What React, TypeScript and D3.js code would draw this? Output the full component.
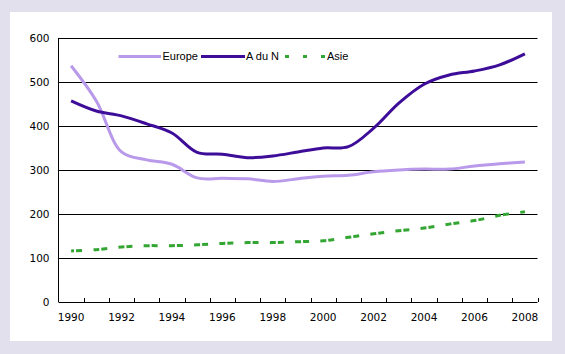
import { useMemo } from 'react';
import * as d3 from 'd3';

const years = d3.range(1990, 2009).map(String);
const yTicks = [0, 100, 200, 300, 400, 500, 600];
const xLabels = ['1990', '1992', '1994', '1996', '1998', '2000', '2002', '2004', '2006', '2008'];

const europe = [537, 457, 341, 323, 313, 282, 281, 280, 274, 280, 286, 288, 296, 300, 302, 302, 309, 314, 318];
const aduN = [457, 434, 423, 405, 384, 340, 336, 328, 332, 341, 350, 353, 395, 452, 495, 516, 525, 539, 564];
const asie = [116, 119, 125, 128, 128, 130, 133, 135, 135, 137, 139, 147, 155, 162, 168, 177, 185, 197, 205];

const series = [
  { name: 'Europe', values: europe, color: '#b999ea', dash: '' },
  { name: 'A du N', values: aduN, color: '#3d0c98', dash: '' },
  { name: 'Asie', values: asie, color: '#33a532', dash: '6,2,6,11.25' },
];

const W = 565;
const H = 354;
const plot = { left: 58.5, right: 537.5, top: 38, bottom: 302 };

export default function App() {
  const x = useMemo(
    () => d3.scaleBand().domain(years).range([plot.left, plot.right]),
    [],
  );
  const y = useMemo(
    () => d3.scaleLinear().domain([0, 600]).range([plot.bottom, plot.top]),
    [],
  );
  const cx = (i: number) => x(years[i])! + x.bandwidth() / 2;

  const line = d3
    .line<number>()
    .x((_, i) => cx(i))
    .y((d) => y(d))
    .curve(d3.curveCatmullRom.alpha(0.5));

  const axisFont = { fontFamily: 'DejaVu Sans, Verdana, sans-serif', fontSize: 10.5, fill: '#000' };
  const legendFont = { fontFamily: 'Liberation Sans, Arial, sans-serif', fontSize: 11, fill: '#000' };

  // légende : x de départ de chaque entrée
  const legend = [
    { s: series[0], x1: 118.5, x2: 161, tx: 162.5, dash: '' },
    { s: series[1], x1: 201, x2: 245, tx: 246, dash: '' },
    { s: series[2], x1: 285, x2: 326, tx: 327, dash: '4,14' },
  ];
  const ly = 56.5;

  return (
    <svg
      width={W}
      height={H}
      style={{ position: 'absolute', left: 0, top: 0 }}
    >
      <rect x={0} y={0} width={W} height={H} fill="#e3e0ee" />
      <rect x={10} y={12} width={542} height={329} fill="#fff" />

      {yTicks.map((t) => (
        <g key={t}>
          {t > 0 && (
            <line x1={plot.left} x2={plot.right} y1={Math.round(y(t)) + 0.5} y2={Math.round(y(t)) + 0.5} stroke="#000" strokeWidth={1} />
          )}
          <text x={49.5} y={y(t)} dy="0.35em" textAnchor="end" {...axisFont}>
            {t}
          </text>
        </g>
      ))}

      {series.map((s) => (
        <path
          key={s.name}
          d={line(s.values)!}
          fill="none"
          stroke={s.color}
          strokeWidth={3}
          strokeDasharray={s.dash || undefined}
          strokeDashoffset={s.dash ? 3 : undefined}
        />
      ))}

      {/* axes */}
      <line x1={plot.left} x2={plot.left} y1={plot.top} y2={plot.bottom} stroke="#000" />
      <line x1={plot.left} x2={plot.right} y1={plot.bottom + 0.5} y2={plot.bottom + 0.5} stroke="#000" />
      {years.map((yr) => (
        <line
          key={yr}
          x1={Math.round(x(yr)! + x.bandwidth()) + 0.5}
          x2={Math.round(x(yr)! + x.bandwidth()) + 0.5}
          y1={plot.bottom}
          y2={plot.bottom - 4}
          stroke="#000"
        />
      ))}
      {xLabels.map((yr) => (
        <text
          key={yr}
          x={x(yr)! + x.bandwidth() / 2}
          y={317}
          dy="0.35em"
          textAnchor="middle"
          {...axisFont}
        >
          {yr}
        </text>
      ))}

      {legend.map((l) => (
        <g key={l.s.name}>
          <line
            x1={l.x1}
            x2={l.x2}
            y1={ly}
            y2={ly}
            stroke={l.s.color}
            strokeWidth={3}
            strokeDasharray={l.dash || undefined}
          />
          <text x={l.tx} y={ly} dy="0.35em" {...legendFont}>
            {l.s.name}
          </text>
        </g>
      ))}
    </svg>
  );
}
